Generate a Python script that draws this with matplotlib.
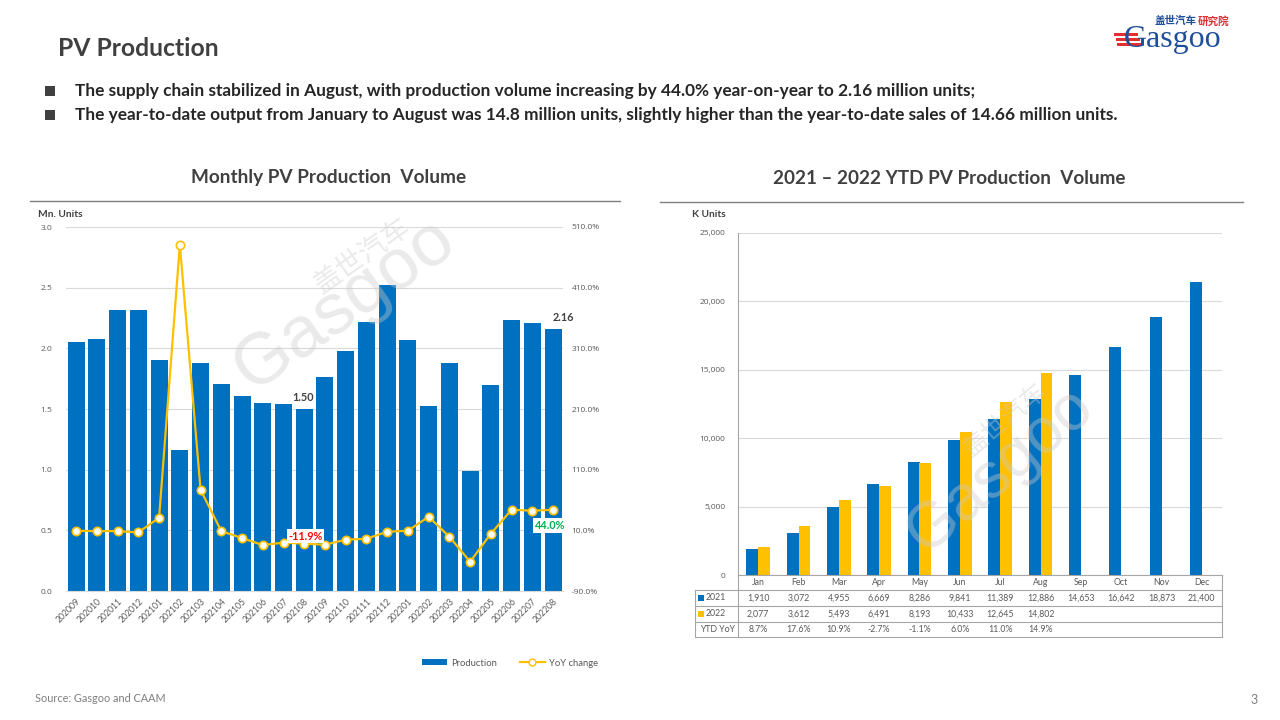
import matplotlib
matplotlib.use('Agg')
import matplotlib.pyplot as plt
from matplotlib.lines import Line2D
from matplotlib.patches import Rectangle, Patch
import numpy as np

plt.rcParams['font.family'] = ['Lato', 'Noto Sans CJK SC', 'DejaVu Sans']

# ---------------- data ----------------
months_left = ['202009', '202010', '202011', '202012', '202101', '202102', '202103', '202104',
               '202105', '202106', '202107', '202108', '202109', '202110', '202111', '202112',
               '202201', '202202', '202203', '202204', '202205', '202206', '202207', '202208']
production = [2.05, 2.08, 2.32, 2.32, 1.90, 1.16, 1.88, 1.71, 1.61, 1.55, 1.54, 1.50,
              1.765, 1.98, 2.22, 2.52, 2.07, 1.525, 1.88, 0.99, 1.70, 2.235, 2.21, 2.16]
yoy_change = [9.3, 8.7, 8.7, 6.6, 30.8, 480.8, 76.9, 8.7, -2.7, -14.3, -10.3, -11.9,
              -13.7, -5.5, -3.9, 7.7, 9.3, 32.4, -0.5, -41.8, 4.4, 44.0, 42.3, 44.0]

months_right = ['Jan', 'Feb', 'Mar', 'Apr', 'May', 'Jun', 'Jul', 'Aug', 'Sep', 'Oct', 'Nov', 'Dec']
ytd_2021 = [1910, 3072, 4955, 6669, 8286, 9841, 11389, 12886, 14653, 16642, 18873, 21400]
ytd_2022 = [2077, 3612, 5493, 6491, 8193, 10433, 12645, 14802]
ytd_yoy = ['8.7%', '17.6%', '10.9%', '-2.7%', '-1.1%', '6.0%', '11.0%', '14.9%']

BLUE = '#0070C0'
GOLD = '#FFC000'
GRID = '#D9D9D9'
TXT = '#595959'
DARK = '#404040'

W, H = 1280, 720
fig = plt.figure(figsize=(12.8, 7.2), dpi=100)

def fx(x):
    return x / W

def fy(y):
    return 1 - y / H

def hline(x0, x1, y, color='#7F7F7F', lw=1.0):
    fig.add_artist(Line2D([fx(x0), fx(x1)], [fy(y), fy(y)], transform=fig.transFigure,
                          color=color, lw=lw))

def vline(x, y0, y1, color='#7F7F7F', lw=1.0):
    fig.add_artist(Line2D([fx(x), fx(x)], [fy(y0), fy(y1)], transform=fig.transFigure,
                          color=color, lw=lw))

# ---------------- header ----------------
fig.text(fx(58), fy(48), 'PV Production', fontsize=17.8, fontweight='bold', color=DARK,
         ha='left', va='center')
bullets = ['The supply chain stabilized in August, with production volume increasing by 44.0% year-on-year to 2.16 million units;',
           'The year-to-date output from January to August was 14.8 million units, slightly higher than the year-to-date sales of 14.66 million units.']
for i, b in enumerate(bullets):
    yy = 91 + i * 24
    fig.patches.append(Rectangle((fx(45), fy(yy + 5)), 10 / W, 10 / H, transform=fig.transFigure,
                                 facecolor='#404040', edgecolor='none'))
    fig.text(fx(75), fy(yy), b, fontsize=12.4, fontweight='bold', color='#262626',
             ha='left', va='center')

# logo
fig.text(fx(1155), fy(21), '盖世汽车', fontsize=7.6, fontweight='bold', color='#1F4E9A',
         ha='left', va='center', family=['Noto Sans CJK SC'])
fig.text(fx(1198), fy(21), '研究院', fontsize=7.6, fontweight='bold', color='#E03030',
         ha='left', va='center', family=['Noto Sans CJK SC'])
fig.text(fx(1124), fy(40), 'Gasgoo', fontsize=23, color='#1F4E9A', ha='left', va='center',
         family=['Liberation Serif'])
for k, yy in enumerate([34, 39, 44]):
    fig.patches.append(Rectangle((fx(1114 + k * 1.5), fy(yy + 2)), 24 / W, 3 / H,
                                 transform=fig.transFigure, facecolor='#E03030', edgecolor='none'))

# footer
fig.text(fx(35), fy(699), 'Source: Gasgoo and CAAM', fontsize=7.8, color='#7F7F7F',
         ha='left', va='center')
fig.text(fx(1254), fy(700), '3', fontsize=9, color='#7F7F7F', ha='center', va='center')

# chart titles
fig.text(fx(329), fy(178), 'Monthly PV Production  Volume', fontsize=13.7, fontweight='bold',
         color=DARK, ha='center', va='center')
hline(30, 620, 201, color='#7F7F7F', lw=1.0)
fig.text(fx(949), fy(178), '2021 – 2022 YTD PV Production  Volume', fontsize=13.6,
         fontweight='bold', color=DARK, ha='center', va='center')
hline(660, 1243, 202, color='#7F7F7F', lw=1.0)

TFS = 6.6

# ---------------- left chart ----------------
ax = fig.add_axes([fx(65.8), fy(591), (563.4 - 65.8) / W, (591 - 227) / H])
x = np.arange(len(months_left))
ax.bar(x, production, width=0.82, color=BLUE, zorder=2)
ax.set_xlim(-0.5, len(months_left) - 0.5)
ax.set_ylim(0, 3.0)
ax.set_yticks(np.arange(0, 3.01, 0.5))
ax.set_yticklabels([f'{v:.1f}' for v in np.arange(0, 3.01, 0.5)], family=['Open Sans'])
ax.yaxis.grid(True, color=GRID, lw=0.8, zorder=0)
ax.set_axisbelow(True)
for s in ['top', 'left', 'right']:
    ax.spines[s].set_visible(False)
ax.spines['bottom'].set_color(GRID)
ax.tick_params(axis='y', length=0, labelsize=6.0, labelcolor=TXT, pad=10)
ax.set_xticks(x)
ax.set_xticklabels(months_left, rotation=45, ha='right', rotation_mode='anchor',
                   fontsize=6.2, color=TXT)
ax.tick_params(axis='x', length=0, pad=4)

ax2 = ax.twinx()
ax2.set_ylim(-90, 510)
ax2.set_yticks(np.arange(-90, 511, 100))
ax2.set_yticklabels([f'{v:.1f}%' for v in np.arange(-90, 511, 100)], family=['Open Sans'])
ax2.tick_params(axis='y', length=0, labelsize=6.0, labelcolor=TXT, pad=6)
for s in ['top', 'left', 'right', 'bottom']:
    ax2.spines[s].set_visible(False)
ax2.plot(x, yoy_change, color=GOLD, lw=1.6, marker='o', markersize=6,
         markerfacecolor='white', markeredgecolor=GOLD, markeredgewidth=1.2, zorder=4)

# data labels
i108 = months_left.index('202108')
i208 = months_left.index('202208')
ax.text(i108 - 0.05, production[i108] + 0.05, f'{production[i108]:.2f}', fontsize=7.8,
        fontweight='bold', color=DARK, ha='center', va='bottom', zorder=5)
ax.text(i208 + 0.5, production[i208] + 0.05, f'{production[i208]:.2f}', fontsize=7.8,
        fontweight='bold', color=DARK, ha='center', va='bottom', zorder=5)
ax2.text(i108 + 0.05, yoy_change[i108] + 12, f'{yoy_change[i108]:.1f}%', fontsize=7.8,
         fontweight='bold', color='#FF0000', ha='center', va='center', zorder=6,
         bbox=dict(facecolor='white', edgecolor='none', pad=1.2))
ax2.text(i208 - 0.15, yoy_change[i208] - 26, f'{yoy_change[i208]:.1f}%', fontsize=7.8,
         fontweight='bold', color='#00B050', ha='center', va='center', zorder=6,
         bbox=dict(facecolor='white', edgecolor='none', pad=1.2))

fig.text(fx(38), fy(214), 'Mn. Units', fontsize=7.3, fontweight='bold', color=DARK,
         ha='left', va='center')

# watermark (left)
fig.text(fx(345), fy(305), 'Gasgoo', fontsize=52, color='#CCCCCC', alpha=0.4,
         rotation=35, ha='center', va='center', family=['Liberation Sans'], zorder=10)
fig.text(fx(362), fy(256), '盖世汽车', fontsize=20, color='#CCCCCC', alpha=0.4,
         rotation=35, ha='center', va='center', family=['Noto Sans CJK SC'], zorder=10)

# legend
leg_handles = [Patch(facecolor=BLUE, edgecolor='none'),
               Line2D([0], [0], color=GOLD, lw=1.6, marker='o', markersize=5,
                      markerfacecolor='white', markeredgecolor=GOLD)]
fig.legend(leg_handles, ['Production', 'YoY change'], loc='center',
           bbox_to_anchor=(fx(510), fy(663)), ncol=2, frameon=False, fontsize=6.8,
           handlelength=2.6, handleheight=0.6, columnspacing=2.5, handletextpad=0.4,
           labelcolor=TXT)

# ---------------- right chart ----------------
axr = fig.add_axes([fx(738), fy(575), (1222 - 738) / W, (575 - 233) / H])
xr = np.arange(len(months_right))
bw = 0.29
axr.bar(xr - bw / 2, ytd_2021, width=bw, color=BLUE, zorder=2)
axr.bar(np.arange(len(ytd_2022)) + bw / 2, ytd_2022, width=bw, color=GOLD, zorder=2)
axr.set_xlim(-0.5, len(months_right) - 0.5)
axr.set_ylim(0, 25000)
yt = np.arange(0, 25001, 5000)
axr.set_yticks(yt)
axr.set_yticklabels([f'{v:,}' for v in yt], family=['Open Sans'])
axr.yaxis.grid(True, color=GRID, lw=0.8, zorder=0)
axr.set_axisbelow(True)
axr.spines['top'].set_visible(False)
axr.spines['right'].set_visible(False)
axr.spines['left'].set_color('#A6A6A6')
axr.spines['bottom'].set_color('#A6A6A6')
axr.tick_params(axis='y', length=0, labelsize=6.0, labelcolor=TXT, pad=9)
axr.set_xticks([])

fig.text(fx(692), fy(214), 'K Units', fontsize=7.3, fontweight='bold', color=DARK,
         ha='left', va='center')

# watermark (right)
fig.text(fx(1000), fy(470), 'Gasgoo', fontsize=46, color='#CCCCCC', alpha=0.4,
         rotation=40, ha='center', va='center', family=['Liberation Sans'], zorder=10)
fig.text(fx(1005), fy(420), '盖世汽车', fontsize=18, color='#CCCCCC', alpha=0.4,
         rotation=40, ha='center', va='center', family=['Noto Sans CJK SC'], zorder=10)

# table below right chart
tl, tsep, tr = 695, 738, 1222
rows_y = [575, 590, 606, 622, 637]
for yy in rows_y[1:]:
    hline(tl, tr, yy, color='#A6A6A6', lw=0.8)
vline(tl, rows_y[1], rows_y[-1], color='#A6A6A6', lw=0.8)
vline(tsep, rows_y[0], rows_y[-1], color='#A6A6A6', lw=0.8)
vline(tr, rows_y[0], rows_y[-1], color='#A6A6A6', lw=0.8)
colw = (tr - tsep) / len(months_right)
cx = [tsep + colw * (i + 0.5) for i in range(len(months_right))]
fs_t = 6.3
for i, m in enumerate(months_right):
    fig.text(fx(cx[i]), fy(582.5), m, fontsize=fs_t, color=TXT, ha='center', va='center')
for i, v in enumerate(ytd_2021):
    fig.text(fx(cx[i]), fy(598), f'{v:,}', fontsize=fs_t, color=TXT, ha='center', va='center')
for i, v in enumerate(ytd_2022):
    fig.text(fx(cx[i]), fy(614), f'{v:,}', fontsize=fs_t, color=TXT, ha='center', va='center')
for i, v in enumerate(ytd_yoy):
    fig.text(fx(cx[i]), fy(629.5), v, fontsize=fs_t, color=TXT, ha='center', va='center')
for yy, col, lab in [(598, BLUE, '2021'), (614, GOLD, '2022')]:
    fig.patches.append(Rectangle((fx(698), fy(yy + 3)), 6 / W, 6 / H, transform=fig.transFigure,
                                 facecolor=col, edgecolor='none'))
    fig.text(fx(706), fy(yy), lab, fontsize=fs_t, color=TXT, ha='left', va='center')
fig.text(fx(735), fy(629.5), 'YTD YoY', fontsize=fs_t, color=TXT, ha='right', va='center')

fig.savefig('out.png', dpi=100, facecolor='white')
